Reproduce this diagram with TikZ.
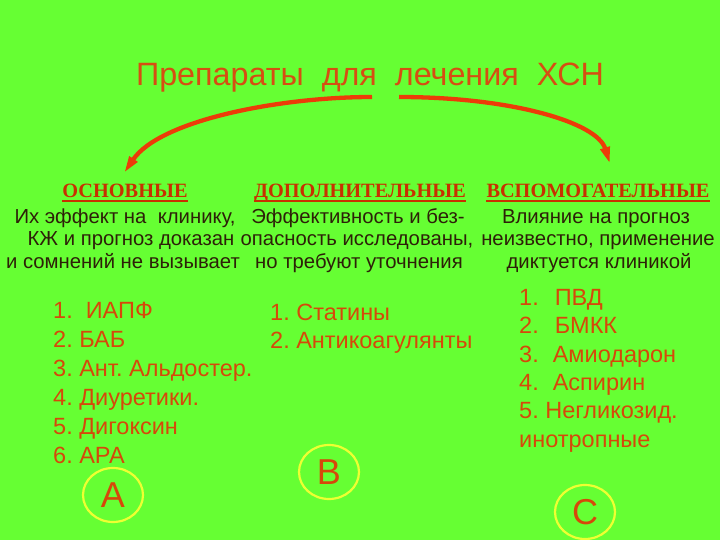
\documentclass[tikz,border=0pt]{standalone}
\usepackage{fontspec}
\setmainfont{Liberation Sans}
\newfontfamily\hdfont{Liberation Serif}
\usetikzlibrary{arrows.meta}
\definecolor{bg}{RGB}{102,255,51}
\definecolor{ttl}{RGB}{214,78,18}
\definecolor{hd}{RGB}{200,48,0}
\definecolor{bodyc}{RGB}{45,32,8}
\definecolor{lst}{RGB}{214,72,10}
\definecolor{arr}{RGB}{236,60,8}
\definecolor{ring}{RGB}{238,255,50}
\tikzset{
  ttlnode/.style={font=\fontsize{32.3}{36}\selectfont, text=ttl, anchor=base, inner sep=0pt},
  hdnode/.style={font=\hdfont\bfseries\fontsize{20.3}{22}\selectfont, text=hd, anchor=base, inner sep=0pt},
  hdline/.style={draw=hd, line width=1.8pt},
  bodynode/.style={font=\fontsize{20.3}{22.5}\selectfont, text=bodyc, anchor=base, inner sep=0pt},
  lstnode/.style={font=\fontsize{23.5}{29}\selectfont, text=lst, anchor=base west, inner sep=0pt},
  letternode/.style={text=lst, font=\fontsize{36}{40}\selectfont, inner sep=0pt},
  ringline/.style={draw=ring, line width=2.2pt},
  curvearrow/.style={draw=arr, line width=4.3pt, -{Triangle[length=17pt,width=9pt]}}
}
\begin{document}
\frenchspacing
\begin{tikzpicture}[x=1pt,y=-1pt]
\useasboundingbox (0,0) rectangle (720,540);
\fill[bg] (0,0) rectangle (720,540);
% title
\node[ttlnode] (title) at (370,86) {Препараты\ \ для\ \ лечения\ \ ХСН};
\coordinate (ls) at (372,97);
\coordinate (le) at (124,173);
\coordinate (rs) at (399,97);
\coordinate (re) at (610,164);
\draw[curvearrow] (ls) .. controls (280,97) and (160,120) .. (le);
\draw[curvearrow] (rs) .. controls (510,97) and (597,122) .. (re);
% headings
\node[hdnode] (h1) at (125,198) {ОСНОВНЫЕ};
\node[hdnode] (h2) at (360,198) {ДОПОЛНИТЕЛЬНЫЕ};
\node[hdnode] (h3) at (598,198) {ВСПОМОГАТЕЛЬНЫЕ};
\foreach \h in {h1,h2,h3}
  \draw[hdline] ([yshift=-3pt]\h.base west) -- ([yshift=-3pt]\h.base east);
% body text
\node[bodynode] (b11) at (125,223) {Их эффект на\ \ клинику,};
\node[bodynode] (b12) at (131,245) {КЖ и прогноз доказан};
\node[bodynode] (b13) at (123,268) {и сомнений не вызывает};
\node[bodynode] (b21) at (358,223) {Эффективность и без-};
\node[bodynode] (b22) at (357,245) {опасность исследованы,};
\node[bodynode] (b23) at (359,268) {но требуют уточнения};
\node[bodynode] (b31) at (596,223) {Влияние на прогноз};
\node[bodynode] (b32) at (598,245) {неизвестно, применение};
\node[bodynode] (b33) at (599,268) {диктуется клиникой};
% list A
\node[lstnode] (a1) at (53,318) {1.\ \ ИАПФ};
\node[lstnode] (a2) at (53,347) {2. БАБ};
\node[lstnode] (a3) at (53,376) {3. Ант. Альдостер.};
\node[lstnode] (a4) at (53,405) {4. Диуретики.};
\node[lstnode] (a5) at (53,434) {5. Дигоксин};
\node[lstnode] (a6) at (53,463) {6. АРА};
% list B
\node[lstnode] (bb1) at (270,320) {1. Статины};
\node[lstnode] (bb2) at (270,348) {2. Антикоагулянты};
% list C
\node[lstnode] (c1) at (519,305) {1.\hspace{16pt}ПВД};
\node[lstnode] (c2) at (519,333) {2.\hspace{16pt}БМКК};
\node[lstnode] (c3) at (519,362) {3.\hspace{14pt}Амиодарон};
\node[lstnode] (c4) at (519,390) {4.\hspace{14pt}Аспирин};
\node[lstnode] (c5) at (519,418) {5. Негликозид.};
\node[lstnode] (c6) at (519,447) {инотропные};
% circles
\draw[ringline] (113,495) ellipse [x radius=30, y radius=27];
\node[letternode] (la) at (113,495) {А};
\draw[ringline] (329,472) ellipse [x radius=30, y radius=27];
\node[letternode] (lb) at (329,472) {В};
\draw[ringline] (585,512) ellipse [x radius=30, y radius=27];
\node[letternode] (lc) at (585,512) {С};
\end{tikzpicture}
\end{document}
